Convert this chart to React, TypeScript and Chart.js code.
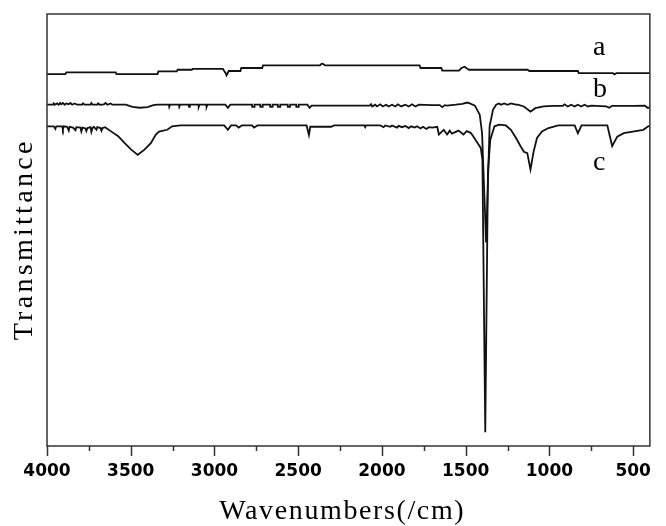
import { useEffect, useRef } from 'react';
import { Chart, registerables } from 'chart.js';

Chart.register(...registerables);

// x-axis tick labels (wavenumbers, cm-1)
const tickValues = [4000, 3500, 3000, 2500, 2000, 1500, 1000, 500];
const minorTickValues = [3750, 3250, 2750, 2250, 1750, 1250, 750];

// Series a
const aWave = [4000, 3890, 3885, 3590, 3585, 3340, 3335, 3225, 3220, 3135, 3130, 2950, 2935, 2928, 2915, 2845, 2840, 2715, 2710, 2370, 2360, 2350, 2340, 1775, 1770, 1645, 1640, 1540, 1525, 1505, 1490, 1480, 1130, 1120, 830, 825, 620, 612, 600, 400];
const aT = [86.1, 86.1, 86.5, 86.5, 86.1, 86.1, 86.7, 86.7, 87.1, 87.1, 87.3, 87.3, 86.4, 85.8, 86.8, 86.8, 87.5, 87.5, 88.1, 88.1, 88.5, 88.4, 88.1, 88.1, 87.5, 87.5, 86.9, 86.9, 87.5, 87.8, 87.3, 87.1, 87.1, 86.8, 86.8, 86.3, 86.3, 86.0, 86.3, 86.3];

// Series b
const bWave = [4000, 3965, 3960, 3955, 3940, 3930, 3922, 3915, 3905, 3895, 3885, 3870, 3860, 3850, 3835, 3820, 3790, 3785, 3775, 3740, 3735, 3728, 3700, 3695, 3685, 3660, 3650, 3640, 3620, 3610, 3595,
  3530, 3490, 3446, 3400, 3365, 3340,
  3272, 3270, 3265, 3212, 3210, 3205, 3154, 3152, 3147, 3096, 3094, 3089, 3049, 3047, 3042, 2935, 2920, 2905,
  2776, 2775, 2762, 2761, 2727, 2726, 2713, 2712, 2668, 2667, 2654, 2653, 2622, 2621, 2608, 2607, 2563, 2562, 2549, 2548, 2512, 2511, 2498, 2497,
  2445, 2432, 2420, 2080, 2073, 2065, 2058, 2040, 2030, 2010, 1995, 1975, 1960, 1940, 1920, 1905, 1885, 1860, 1840, 1820, 1800, 1780,
  1700, 1655, 1640, 1625, 1611, 1560, 1520, 1490, 1475, 1445, 1416, 1402, 1378, 1357, 1337, 1318, 1300, 1290, 1270, 1250, 1230, 1200, 1189,
  1152, 1113, 1084, 1035, 978, 920, 910, 890, 870, 850, 830, 810, 790, 770, 750, 660, 643, 625, 500, 430, 415, 400];
const bT = [79.0, 79.0, 79.3, 79.0, 79.3, 79.0, 79.4, 79.1, 79.4, 79.0, 79.3, 79.1, 79.4, 79.0, 79.3, 79.0, 79.0, 79.3, 79.0, 79.0, 79.4, 79.0, 79.0, 79.3, 79.0, 79.1, 79.4, 79.0, 79.3, 79.0, 79.0,
  79.0, 78.5, 78.3, 78.45, 78.9, 79.0,
  79.0, 78.5, 79.0, 79.0, 78.5, 79.0, 79.0, 78.5, 79.0, 79.0, 78.5, 79.0, 79.0, 78.5, 79.0, 79.0, 78.3, 79.0,
  79.0, 78.5, 78.5, 79.0, 79.0, 78.5, 78.5, 79.0, 79.0, 78.5, 78.5, 79.0, 79.0, 78.5, 78.5, 79.0, 79.0, 78.5, 78.5, 79.0, 79.0, 78.5, 78.5, 79.0,
  79.0, 78.3, 78.8, 78.8, 78.8, 79.1, 78.6, 79.0, 78.6, 79.1, 78.6, 79.0, 78.6, 79.0, 78.6, 79.1, 78.6, 79.0, 78.6, 79.1, 78.6, 79.0,
  78.9, 78.9, 78.45, 78.9, 78.8, 79.0, 79.2, 79.5, 79.3, 78.8, 76.7, 72.4, 47.1, 74.0, 77.8, 79.0, 79.3, 79.0, 79.3, 79.0, 79.3, 79.0, 79.0,
  78.6, 77.4, 78.2, 78.6, 78.75, 78.75, 79.1, 78.6, 79.0, 78.6, 79.0, 78.6, 79.0, 78.6, 78.8, 78.6, 78.3, 78.75, 78.75, 78.8, 78.3, 78.3];

// Series c
const cWave = [4000, 3960, 3950, 3945, 3910, 3905, 3900, 3880, 3870, 3865, 3845, 3830, 3825, 3800, 3795, 3788, 3770, 3765, 3758, 3740, 3735, 3728, 3720, 3705, 3700, 3680, 3675, 3668, 3653,
  3624, 3575, 3536, 3497, 3458, 3418, 3380, 3350, 3331, 3282, 3253, 3204, 2942, 2920, 2901, 2870, 2856, 2836, 2775, 2764, 2743, 2450, 2436, 2428, 2303, 2285, 2105, 2100, 2095, 2010,
  1990, 1980, 1950, 1940, 1910, 1900, 1880, 1860, 1840, 1825, 1805, 1790, 1770, 1755, 1735, 1720, 1699, 1670, 1660, 1631, 1611, 1595, 1582, 1543, 1513, 1494, 1470, 1455, 1430, 1410, 1400,
  1383, 1367, 1353, 1328, 1299, 1260, 1230, 1201, 1172, 1152, 1132, 1113, 1094, 1074, 1044, 1006, 947, 849, 830, 808, 654, 625, 595, 556, 439, 410, 400];
const cT = [74.0, 74.0, 73.4, 74.0, 74.0, 73.3, 74.0, 73.9, 73.0, 73.9, 73.7, 73.1, 73.8, 73.7, 72.8, 73.7, 73.5, 72.9, 73.6, 73.8, 72.7, 73.6, 73.9, 73.2, 73.8, 73.6, 73.0, 73.6, 73.8,
  73.0, 71.7, 70.1, 68.6, 67.4, 68.6, 70.1, 72.1, 72.8, 73.2, 74.0, 74.2, 74.2, 73.2, 74.2, 74.2, 73.7, 74.2, 74.2, 73.7, 74.2, 74.2, 72.0, 73.9, 73.9, 74.2, 74.2, 73.8, 74.2, 74.2,
  73.8, 74.2, 73.9, 74.2, 73.7, 74.1, 73.8, 74.1, 73.6, 74.0, 73.7, 74.0, 73.5, 73.9, 73.4, 73.8, 73.7, 73.9, 72.1, 73.2, 72.1, 73.0, 72.3, 73.0, 72.1, 72.9, 72.5, 71.7, 70.2, 69.0, 66.3,
  3.2, 63.5, 70.9, 74.0, 74.4, 74.2, 73.2, 71.4, 69.4, 68.1, 67.8, 64.0, 68.2, 71.3, 72.8, 73.6, 74.2, 74.2, 72.4, 74.2, 74.2, 69.4, 71.6, 72.4, 73.2, 74.0, 74.1];

// Series name labels and their anchor in data units
const seriesNames = ['a', 'b', 'c'];
const nameWave = [703, 698, 703];
const nameT = [90.5, 80.9, 64.0];

const xTitle = 'Wavenumbers(/cm)';
const yTitle = 'Transmittance';

const toPoints = (xs: number[], ys: number[]) => xs.map((x, i) => ({ x, y: ys[i] }));

function spacedText(ctx: any, text: string, x: number, y: number, targetWidth: number) {
  ctx.letterSpacing = '0px';
  const w = ctx.measureText(text).width;
  const ls = Math.max(0, (targetWidth - w) / text.length);
  ctx.letterSpacing = ls + 'px';
  ctx.fillText(text, x + ls / 2, y);
  ctx.letterSpacing = '0px';
}

const decorPlugin = {
  id: 'decor',
  afterDatasetsDraw(chart: any) {
    const { ctx, chartArea, scales } = chart;
    const { left, right, top, bottom } = chartArea;
    const xs = scales.x;
    const ys = scales.y;
    ctx.save();
    // frame
    ctx.strokeStyle = '#333';
    ctx.lineWidth = 1.5;
    ctx.strokeRect(left, top, right - left, bottom - top);
    // ticks
    ctx.beginPath();
    tickValues.forEach((v) => {
      const px = Math.round(xs.getPixelForValue(v)) + 0.5;
      ctx.moveTo(px, bottom);
      ctx.lineTo(px, bottom + 10);
    });
    minorTickValues.forEach((v) => {
      const px = Math.round(xs.getPixelForValue(v)) + 0.5;
      ctx.moveTo(px, bottom);
      ctx.lineTo(px, bottom + 5);
    });
    ctx.stroke();
    // axis titles
    ctx.fillStyle = '#000';
    ctx.font = '28px "Liberation Serif", "Times New Roman", serif';
    ctx.textAlign = 'center';
    ctx.textBaseline = 'middle';
    spacedText(ctx, xTitle, (left + right) / 2 - 7, 512, 246);
    ctx.save();
    ctx.translate(25, 241);
    ctx.rotate(-Math.PI / 2);
    spacedText(ctx, yTitle, 0, 0, 202);
    ctx.restore();
    // series names
    ctx.font = '28px "Liberation Serif", "Times New Roman", serif';
    ctx.textBaseline = 'alphabetic';
    seriesNames.forEach((n, i) => {
      ctx.fillText(n, xs.getPixelForValue(nameWave[i]), ys.getPixelForValue(nameT[i]));
    });
    ctx.restore();
  },
};

export default function App() {
  const ref = useRef<HTMLCanvasElement | null>(null);
  useEffect(() => {
    if (!ref.current) return;
    const lineStyle = {
      borderColor: '#111',
      borderWidth: 1.8,
      pointRadius: 0,
      tension: 0,
      fill: false,
    };
    const chart = new Chart(ref.current, {
      type: 'line',
      data: {
        datasets: [
          { label: 'a', data: toPoints(aWave, aT), ...lineStyle },
          { label: 'b', data: toPoints(bWave, bT), ...lineStyle },
          { label: 'c', data: toPoints(cWave, cT), ...lineStyle },
        ],
      },
      options: {
        responsive: false,
        animation: false,
        layout: { padding: { left: 47, top: 14, right: 4.5, bottom: 0 } },
        plugins: { legend: { display: false }, tooltip: { enabled: false } },
        scales: {
          x: {
            type: 'linear',
            min: 400,
            max: 4000,
            reverse: true,
            grid: { display: false, drawTicks: false },
            border: { display: false },
            ticks: {
              color: '#000',
              font: { family: 'DejaVu Sans', size: 17, weight: 'bold' },
              padding: 15,
              autoSkip: false,
              maxRotation: 0,
              callback: (v: any) => String(v),
            },
            afterBuildTicks: (scale: any) => {
              scale.ticks = tickValues.map((v) => ({ value: v }));
            },
            afterFit: (scale: any) => {
              scale.height = 80;
            },
          },
          y: { display: false, min: 0, max: 100 },
        },
      },
      plugins: [decorPlugin],
    } as any);
    return () => chart.destroy();
  }, []);
  return (
    <div style={{ position: 'absolute', left: 0, top: 0, width: 666, height: 526, background: '#fff' }}>
      <canvas ref={ref} width={666} height={526} />
    </div>
  );
}
